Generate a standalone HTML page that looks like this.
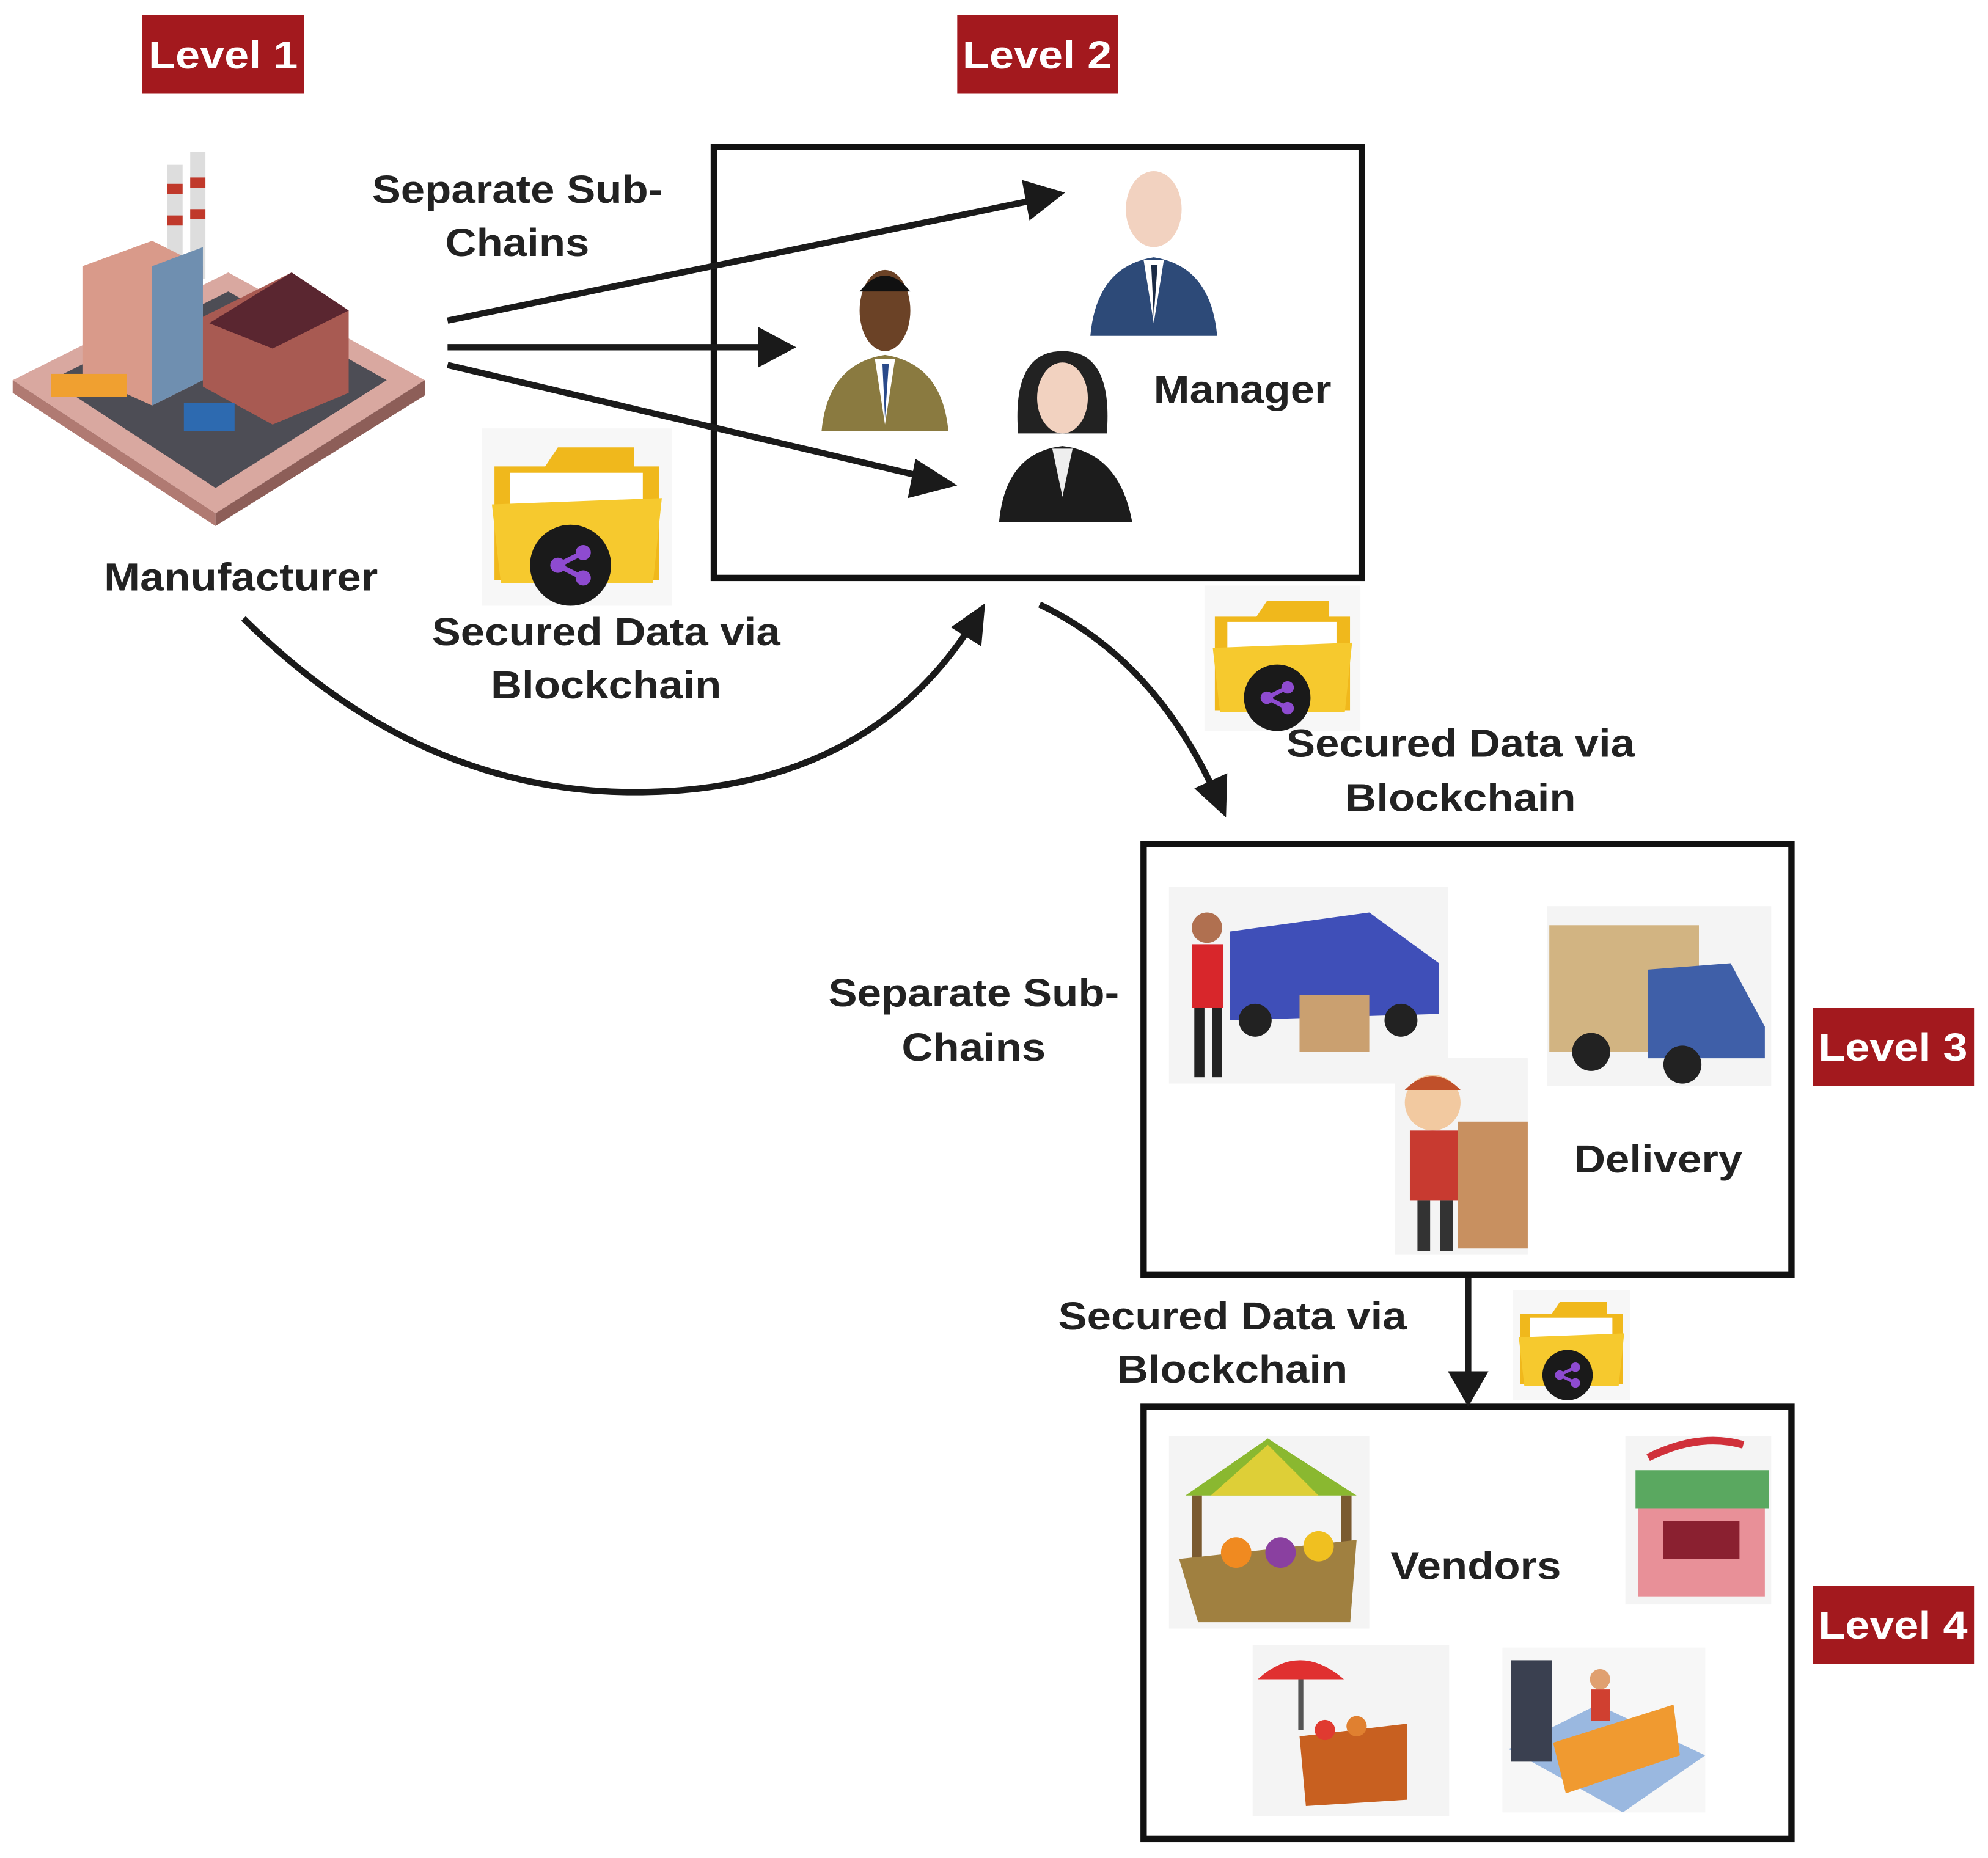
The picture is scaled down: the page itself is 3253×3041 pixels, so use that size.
<!DOCTYPE html>
<html><head><meta charset="utf-8"><style>
html,body{margin:0;padding:0;background:#fff;}
svg{display:block;}
text{font-family:"Liberation Sans",sans-serif;font-weight:bold;}
</style></head><body>
<svg width="3253" height="3041" viewBox="0 0 1568 1466" preserveAspectRatio="none" xmlns="http://www.w3.org/2000/svg">
<defs>
<g id="folder">
<rect x="0" y="0" width="150" height="140" fill="#f7f7f7"/>
<path d="M10 30 L50 30 L60 15 L120 15 L120 30 L140 30 L140 120 L10 120 Z" fill="#f0b81c"/>
<rect x="22" y="35" width="105" height="40" fill="#fff"/>
<path d="M8 60 L142 55 L135 122 L15 122 Z" fill="#f6c92e"/>
<circle cx="70" cy="108" r="32" fill="#1a1a1a"/>
<circle cx="60" cy="108" r="6" fill="#8e4bd0"/><circle cx="80" cy="98" r="6" fill="#8e4bd0"/><circle cx="80" cy="118" r="6" fill="#8e4bd0"/>
<path d="M60 108 L80 98 M60 108 L80 118" stroke="#8e4bd0" stroke-width="4"/>
</g>
<g id="person">
<ellipse cx="50" cy="40" rx="22" ry="30" fill="#f2d2c0"/>
<path d="M0 140 Q5 85 50 78 Q95 85 100 140 Z" fill="#2d4a78"/>
<path d="M42 80 L50 130 L58 80 Z" fill="#fff"/><path d="M48 84 L50 125 L53 84Z" fill="#1a2a44"/>
</g>
</defs>

<g font-size="31" fill="#fff">
<rect x="112" y="12" width="128" height="62" fill="#a3191e"/><text transform="translate(176,54) scale(1.12,1)" text-anchor="middle" fill="#fff">Level 1</text>
<rect x="755" y="12" width="127" height="62" fill="#a3191e"/><text transform="translate(818,54) scale(1.12,1)" text-anchor="middle" fill="#fff">Level 2</text>
<rect x="1430" y="795" width="127" height="62" fill="#a3191e"/><text transform="translate(1493,837) scale(1.12,1)" text-anchor="middle" fill="#fff">Level 3</text>
<rect x="1430" y="1251" width="127" height="62" fill="#a3191e"/><text transform="translate(1493,1293) scale(1.12,1)" text-anchor="middle" fill="#fff">Level 4</text>
</g>

<g fill="none" stroke="#111" stroke-width="5">
<rect x="563" y="116" width="511" height="340"/>
<rect x="902" y="666" width="511" height="340"/>
<rect x="902" y="1110" width="511" height="341"/>
</g>

<g>
<path d="M10 300 L180 215 L335 300 L170 405 Z" fill="#d9a8a0"/>
<path d="M10 300 L170 405 L170 415 L10 310Z" fill="#b07a72"/>
<path d="M170 405 L335 300 L335 312 L170 415Z" fill="#8d5e58"/>
<path d="M40 300 L180 230 L305 300 L170 385 Z" fill="#4d4d55"/>
<rect x="132" y="130" width="12" height="90" fill="#ddd"/><rect x="150" y="120" width="12" height="100" fill="#ddd"/>
<rect x="132" y="145" width="12" height="8" fill="#c0392b"/><rect x="150" y="140" width="12" height="8" fill="#c0392b"/>
<rect x="132" y="170" width="12" height="8" fill="#c0392b"/><rect x="150" y="165" width="12" height="8" fill="#c0392b"/>
<path d="M65 210 L120 190 L160 210 L160 300 L120 320 L65 295 Z" fill="#d99a8a"/>
<path d="M120 210 L160 195 L160 300 L120 320Z" fill="#6f8fb0"/>
<path d="M160 250 L230 215 L275 245 L275 310 L215 335 L160 305Z" fill="#a85a52"/>
<path d="M165 255 L230 215 L275 245 L215 275Z" fill="#5a2630"/>
<rect x="145" y="318" width="40" height="22" fill="#2d6ab0"/>
<rect x="40" y="295" width="60" height="18" fill="#f0a030"/>
</g>

<use href="#person" x="860" y="125"/>
<g transform="translate(648,205)"><ellipse cx="50" cy="40" rx="20" ry="32" fill="#6b4226"/><path d="M30 25 Q50 0 70 25Z" fill="#111"/><path d="M0 135 Q5 82 50 75 Q95 82 100 135Z" fill="#8a7a40"/><path d="M42 78 L50 130 L58 78Z" fill="#fff"/><path d="M48 82 L50 125 L53 82Z" fill="#2a4a8a"/></g>
<g transform="translate(788,272)"><path d="M15 70 Q10 5 50 5 Q90 5 85 70Z" fill="#222"/><ellipse cx="50" cy="42" rx="20" ry="28" fill="#f2d2c0"/><path d="M0 140 Q5 85 50 80 Q95 85 105 140Z" fill="#1c1c1c"/><path d="M42 82 L50 120 L58 82Z" fill="#eee"/></g>

<use href="#folder" x="380" y="338"/>
<g transform="translate(950,462) scale(0.82)"><use href="#folder"/></g>
<g transform="translate(1193,1018) scale(0.62)"><use href="#folder"/></g>

<rect x="922" y="700" width="220" height="155" fill="#f4f4f4"/>
<path d="M970 735 L1080 720 L1135 760 L1135 800 L970 805Z" fill="#3f4fb8"/>
<circle cx="990" cy="805" r="13" fill="#222"/><circle cx="1105" cy="805" r="13" fill="#222"/>
<rect x="1025" y="785" width="55" height="45" fill="#caa070"/>
<rect x="940" y="745" width="25" height="50" fill="#d8262b"/><circle cx="952" cy="732" r="12" fill="#b07050"/>
<rect x="942" y="795" width="8" height="55" fill="#222"/><rect x="956" y="795" width="8" height="55" fill="#222"/>
<rect x="1220" y="715" width="177" height="142" fill="#f4f4f4"/>
<rect x="1222" y="730" width="118" height="100" fill="#d2b482"/>
<path d="M1300 765 L1365 760 L1392 810 L1392 835 L1300 835Z" fill="#3f5fa8"/>
<circle cx="1255" cy="830" r="15" fill="#222"/><circle cx="1327" cy="840" r="15" fill="#222"/>
<rect x="1100" y="835" width="105" height="155" fill="#f4f4f4"/>
<circle cx="1130" cy="870" r="22" fill="#f2c9a0"/><path d="M1108 860 Q1130 838 1152 860Z" fill="#c0502a"/>
<rect x="1112" y="892" width="40" height="55" fill="#c83a30"/>
<rect x="1150" y="885" width="55" height="100" fill="#c89060"/>
<rect x="1118" y="947" width="10" height="40" fill="#333"/><rect x="1136" y="947" width="10" height="40" fill="#333"/>

<rect x="922" y="1133" width="158" height="152" fill="#f4f4f4"/>
<path d="M935 1180 L1000 1135 L1070 1180Z" fill="#8ab830"/>
<path d="M955 1180 L1000 1140 L1040 1180Z" fill="#f2d43a" opacity="0.8"/>
<rect x="940" y="1180" width="8" height="75" fill="#7a5a30"/><rect x="1058" y="1180" width="8" height="75" fill="#7a5a30"/>
<path d="M930 1230 L1070 1215 L1065 1280 L945 1280Z" fill="#a08040"/>
<circle cx="975" cy="1225" r="12" fill="#f08a20"/><circle cx="1010" cy="1225" r="12" fill="#8a40a0"/><circle cx="1040" cy="1220" r="12" fill="#f0c020"/>
<rect x="1282" y="1133" width="115" height="133" fill="#f4f4f4"/>
<path d="M1300 1150 Q1340 1130 1375 1140" stroke="#d0303a" stroke-width="6" fill="none"/>
<rect x="1290" y="1160" width="105" height="30" fill="#5aa860"/>
<rect x="1292" y="1190" width="100" height="70" fill="#e89098"/>
<rect x="1312" y="1200" width="60" height="30" fill="#8a2030"/>
<rect x="988" y="1298" width="155" height="135" fill="#f4f4f4"/>
<path d="M992 1325 Q1025 1295 1060 1325Z" fill="#e03030"/><rect x="1024" y="1325" width="4" height="40" fill="#555"/>
<path d="M1025 1370 L1110 1360 L1110 1420 L1030 1425Z" fill="#c86020"/>
<circle cx="1045" cy="1365" r="8" fill="#e03a30"/><circle cx="1070" cy="1362" r="8" fill="#e08030"/>
<rect x="1185" y="1300" width="160" height="130" fill="#f7f7f7"/>
<path d="M1190 1380 L1260 1345 L1345 1385 L1280 1430Z" fill="#9ab8e0"/>
<rect x="1192" y="1310" width="32" height="80" fill="#3a4050"/>
<path d="M1225 1375 L1320 1345 L1325 1385 L1235 1415Z" fill="#f09a30"/>
<circle cx="1262" cy="1325" r="8" fill="#e0a070"/><rect x="1255" y="1333" width="15" height="25" fill="#d04030"/>

<g font-size="31" fill="#222" text-anchor="middle">
<text transform="translate(408,160) scale(1.1,1)">Separate Sub-</text><text transform="translate(408,202) scale(1.1,1)">Chains</text>
<text transform="translate(980,318) scale(1.1,1)">Manager</text>
<text transform="translate(190,466) scale(1.1,1)">Manufacturer</text>
<text transform="translate(478,509) scale(1.1,1)">Secured Data via</text><text transform="translate(478,551) scale(1.1,1)">Blockchain</text>
<text transform="translate(1152,597) scale(1.1,1)">Secured Data via</text><text transform="translate(1152,640) scale(1.1,1)">Blockchain</text>
<text transform="translate(768,794) scale(1.1,1)">Separate Sub-</text><text transform="translate(768,837) scale(1.1,1)">Chains</text>
<text transform="translate(1308,925) scale(1.1,1)">Delivery</text>
<text transform="translate(972,1049) scale(1.1,1)">Secured Data via</text><text transform="translate(972,1091) scale(1.1,1)">Blockchain</text>
<text transform="translate(1164,1246) scale(1.1,1)">Vendors</text>
</g>

<g stroke="#1a1a1a" stroke-width="5" fill="none">
<line x1="353" y1="253" x2="815" y2="158"/>
<line x1="353" y1="274" x2="605" y2="274"/>
<line x1="353" y1="288" x2="732" y2="377"/>
<path d="M192 488 Q330 625 500 625 Q680 625 765 495"/>
<path d="M820 477 Q910 520 958 625"/>
<line x1="1158" y1="1008" x2="1158" y2="1090"/>
</g>
<g fill="#1a1a1a">
<polygon points="840,152 806,142 812,174"/>
<polygon points="628,274 598,258 598,290"/>
<polygon points="755,383 722,362 716,393"/>
<polygon points="777,476 750,495 774,510"/>
<polygon points="967,645 942,622 968,610"/>
<polygon points="1158,1110 1142,1082 1174,1082"/>
</g>
</svg>
</body></html>
